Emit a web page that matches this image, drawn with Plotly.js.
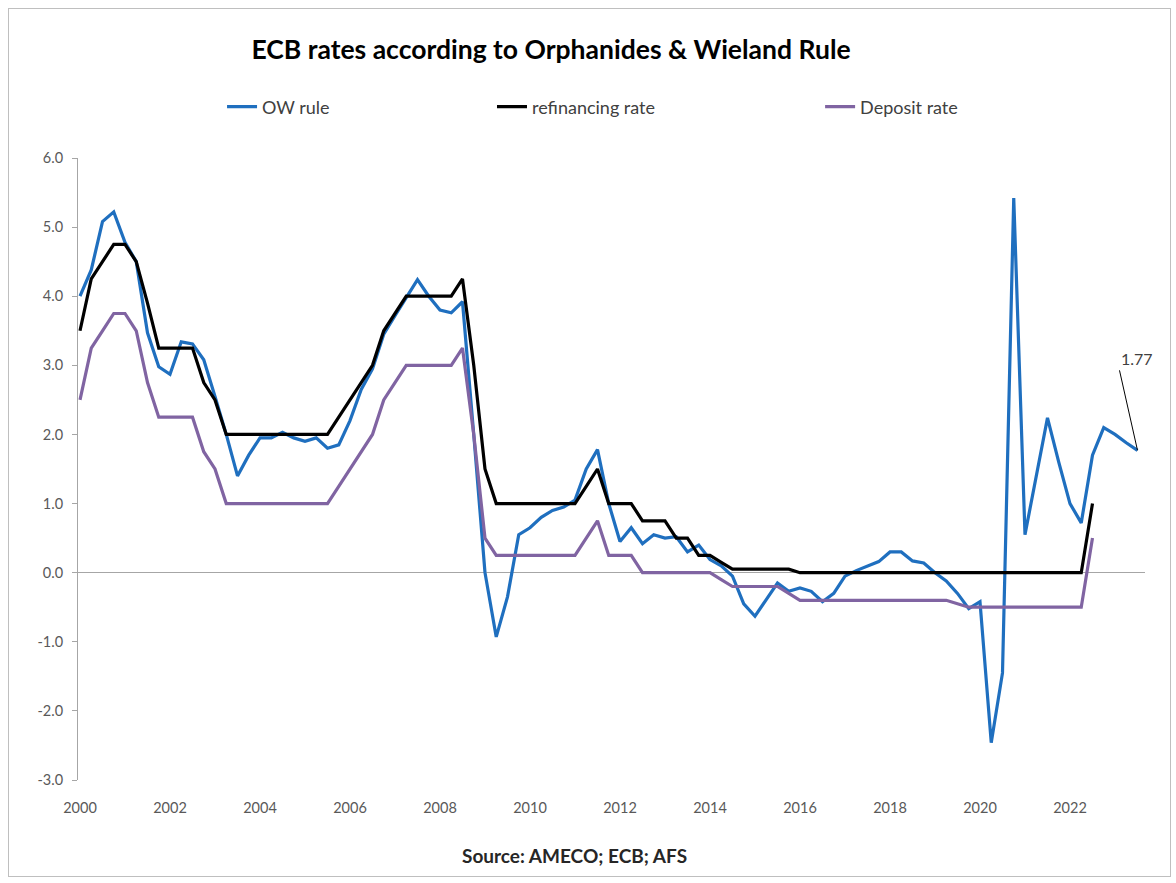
<!DOCTYPE html>
<html>
<head>
<meta charset="utf-8">
<script src="https://cdn.plot.ly/plotly-3.0.1.min.js"></script>
<style>
  html, body { margin: 0; padding: 0; background: #ffffff; }
  #wrap { position: relative; width: 1176px; height: 883px; }
  #chart { width: 1176px; height: 883px; }
  #frame { position: absolute; left: 8px; top: 8px; width: 1163px; height: 869px;
           border: 1px solid #bfbfbf; pointer-events: none; box-sizing: border-box; }
</style>
</head>
<body>
<div id="wrap"><div id="chart"></div><div id="frame"></div></div>
<script>
// Quarterly periods (2000Q1 .. 2023Q3)
const quarters = [
  "2000Q1","2000Q2","2000Q3","2000Q4","2001Q1","2001Q2","2001Q3","2001Q4",
  "2002Q1","2002Q2","2002Q3","2002Q4","2003Q1","2003Q2","2003Q3","2003Q4",
  "2004Q1","2004Q2","2004Q3","2004Q4","2005Q1","2005Q2","2005Q3","2005Q4",
  "2006Q1","2006Q2","2006Q3","2006Q4","2007Q1","2007Q2","2007Q3","2007Q4",
  "2008Q1","2008Q2","2008Q3","2008Q4","2009Q1","2009Q2","2009Q3","2009Q4",
  "2010Q1","2010Q2","2010Q3","2010Q4","2011Q1","2011Q2","2011Q3","2011Q4",
  "2012Q1","2012Q2","2012Q3","2012Q4","2013Q1","2013Q2","2013Q3","2013Q4",
  "2014Q1","2014Q2","2014Q3","2014Q4","2015Q1","2015Q2","2015Q3","2015Q4",
  "2016Q1","2016Q2","2016Q3","2016Q4","2017Q1","2017Q2","2017Q3","2017Q4",
  "2018Q1","2018Q2","2018Q3","2018Q4","2019Q1","2019Q2","2019Q3","2019Q4",
  "2020Q1","2020Q2","2020Q3","2020Q4","2021Q1","2021Q2","2021Q3","2021Q4",
  "2022Q1","2022Q2","2022Q3","2022Q4","2023Q1","2023Q2","2023Q3"
];

// OW rule (per quarter)
const owRule = [
  4.00, 4.38, 5.08, 5.22,   // 2000
  4.78, 4.50, 3.47, 2.98,   // 2001
  2.87, 3.34, 3.31, 3.08,   // 2002
  2.55, 2.00, 1.40, 1.70,   // 2003
  1.95, 1.95, 2.03, 1.95,   // 2004
  1.90, 1.95, 1.80, 1.85,   // 2005
  2.20, 2.65, 2.95, 3.45,   // 2006
  3.72, 3.97, 4.24, 4.00,   // 2007
  3.80, 3.76, 3.92, 2.00,   // 2008
  0.00, -0.93, -0.35, 0.55, // 2009
  0.65, 0.80, 0.90, 0.95,   // 2010
  1.05, 1.50, 1.78, 1.00,   // 2011
  0.45, 0.65, 0.42, 0.55,   // 2012
  0.50, 0.52, 0.30, 0.40,   // 2013
  0.19, 0.10, -0.05, -0.45, // 2014
  -0.63, -0.39, -0.15, -0.27, // 2015
  -0.22, -0.27, -0.42, -0.30, // 2016
  -0.05, 0.03, 0.10, 0.16,  // 2017
  0.30, 0.30, 0.17, 0.14,   // 2018
  0.00, -0.12, -0.30, -0.52, // 2019
  -0.42, -2.46, -1.45, 5.42, // 2020
  0.55, 1.40, 2.24, 1.60,   // 2021
  1.00, 0.72, 1.70, 2.10,   // 2022
  2.00, 1.88, 1.77          // 2023
];

// Main refinancing rate
const refiRate = [
  3.50, 4.25, 4.50, 4.75,
  4.75, 4.50, 3.90, 3.25,
  3.25, 3.25, 3.25, 2.75,
  2.50, 2.00, 2.00, 2.00,
  2.00, 2.00, 2.00, 2.00,
  2.00, 2.00, 2.00, 2.25,
  2.50, 2.75, 3.00, 3.50,
  3.75, 4.00, 4.00, 4.00,
  4.00, 4.00, 4.25, 3.00,
  1.50, 1.00, 1.00, 1.00,
  1.00, 1.00, 1.00, 1.00,
  1.00, 1.25, 1.50, 1.00,
  1.00, 1.00, 0.75, 0.75,
  0.75, 0.50, 0.50, 0.25,
  0.25, 0.15, 0.05, 0.05,
  0.05, 0.05, 0.05, 0.05,
  0.00, 0.00, 0.00, 0.00,
  0.00, 0.00, 0.00, 0.00,
  0.00, 0.00, 0.00, 0.00,
  0.00, 0.00, 0.00, 0.00,
  0.00, 0.00, 0.00, 0.00,
  0.00, 0.00, 0.00, 0.00,
  0.00, 0.00, 1.00
];

// Deposit facility rate
const depositRate = [
  2.50, 3.25, 3.50, 3.75,
  3.75, 3.50, 2.75, 2.25,
  2.25, 2.25, 2.25, 1.75,
  1.50, 1.00, 1.00, 1.00,
  1.00, 1.00, 1.00, 1.00,
  1.00, 1.00, 1.00, 1.25,
  1.50, 1.75, 2.00, 2.50,
  2.75, 3.00, 3.00, 3.00,
  3.00, 3.00, 3.25, 2.00,
  0.50, 0.25, 0.25, 0.25,
  0.25, 0.25, 0.25, 0.25,
  0.25, 0.50, 0.75, 0.25,
  0.25, 0.25, 0.00, 0.00,
  0.00, 0.00, 0.00, 0.00,
  0.00, -0.10, -0.20, -0.20,
  -0.20, -0.20, -0.20, -0.30,
  -0.40, -0.40, -0.40, -0.40,
  -0.40, -0.40, -0.40, -0.40,
  -0.40, -0.40, -0.40, -0.40,
  -0.40, -0.40, -0.45, -0.50,
  -0.50, -0.50, -0.50, -0.50,
  -0.50, -0.50, -0.50, -0.50,
  -0.50, -0.50, 0.50
];

const yearTicks = [2000, 2002, 2004, 2006, 2008, 2010, 2012, 2014, 2016, 2018, 2020, 2022];
const yTicks = [6, 5, 4, 3, 2, 1, 0, -1, -2, -3];

const seriesNames = ["OW rule", "refinancing rate", "Deposit rate"];
const seriesColors = ["#1F6FBF", "#000000", "#8064A2"];

// Convert "YYYYQn" into a position on a continuous year axis
function qPos(q) { return parseInt(q.slice(0, 4), 10) + (parseInt(q.slice(5), 10) - 1) / 4; }
const xAll = quarters.map(qPos);

const FONT = "Lato, 'Open Sans', 'DejaVu Sans', sans-serif";

const traces = [
  { x: xAll.slice(0, owRule.length), y: owRule, name: seriesNames[0], legend: "legend",
    type: "scatter", mode: "lines", line: { color: seriesColors[0], width: 3.2 } },
  { x: xAll.slice(0, refiRate.length), y: refiRate, name: seriesNames[1], legend: "legend2",
    type: "scatter", mode: "lines", line: { color: seriesColors[1], width: 3.2 } },
  { x: xAll.slice(0, depositRate.length), y: depositRate, name: seriesNames[2], legend: "legend3",
    type: "scatter", mode: "lines", line: { color: seriesColors[2], width: 3.2 } }
];

const lastIdx = owRule.length - 1;
const legendCommon = {
  orientation: "h", yanchor: "middle", xanchor: "left", y: 1.082,
  font: { family: FONT, size: 18, color: "#404040" }, bgcolor: "rgba(0,0,0,0)"
};

const layout = {
  width: 1176, height: 883,
  margin: { l: 78, r: 31, t: 158, b: 103 },
  paper_bgcolor: "#ffffff", plot_bgcolor: "#ffffff",
  font: { family: FONT, color: "#595959", size: 14 },
  title: {
    text: "<b>ECB rates according to Orphanides & Wieland Rule</b>",
    font: { family: FONT, size: 26.5, color: "#000000" },
    xref: "container", x: 0.4686, xanchor: "center",
    yref: "container", y: 0.9434, yanchor: "middle"
  },
  showlegend: true,
  legend: Object.assign({}, legendCommon, { x: 0.135 }),
  legend2: Object.assign({}, legendCommon, { x: 0.388 }),
  legend3: Object.assign({}, legendCommon, { x: 0.6955 }),
  xaxis: {
    type: "linear",
    range: [1999.9556, 2023.667],
    tickmode: "array",
    tickvals: yearTicks,
    ticktext: yearTicks.map(String),
    showgrid: false, zeroline: false, showline: false,
    ticks: "", ticklabelstandoff: 17,
    tickfont: { family: FONT, size: 14.5, color: "#595959" }
  },
  yaxis: {
    range: [-3, 6],
    tickmode: "array",
    tickvals: yTicks,
    ticktext: yTicks.map(v => v.toFixed(1)),
    showgrid: false,
    zeroline: true, zerolinecolor: "#a6a6a6", zerolinewidth: 1,
    showline: true, linecolor: "#a6a6a6", linewidth: 1,
    ticks: "outside", ticklen: 5, tickcolor: "#a6a6a6", tickwidth: 1,
    ticklabelstandoff: 6,
    tickfont: { family: FONT, size: 14.5, color: "#595959" }
  },
  annotations: [
    {
      x: xAll[lastIdx], y: owRule[lastIdx], xref: "x", yref: "y",
      text: owRule[lastIdx].toFixed(2),
      showarrow: true, arrowhead: 0, arrowwidth: 1, arrowcolor: "#000000",
      ax: -18, ay: -80, xanchor: "left", yanchor: "bottom",
      font: { family: FONT, size: 16, color: "#404040" }
    },
    {
      xref: "paper", yref: "paper", x: 0.465, y: -0.1206,
      xanchor: "center", yanchor: "middle", showarrow: false,
      text: "<b>Source: AMECO; ECB; AFS</b>",
      font: { family: FONT, size: 19, color: "#262626" }
    }
  ]
};

Plotly.newPlot("chart", traces, layout, { displayModeBar: false, staticPlot: true });
</script>
</body>
</html>
